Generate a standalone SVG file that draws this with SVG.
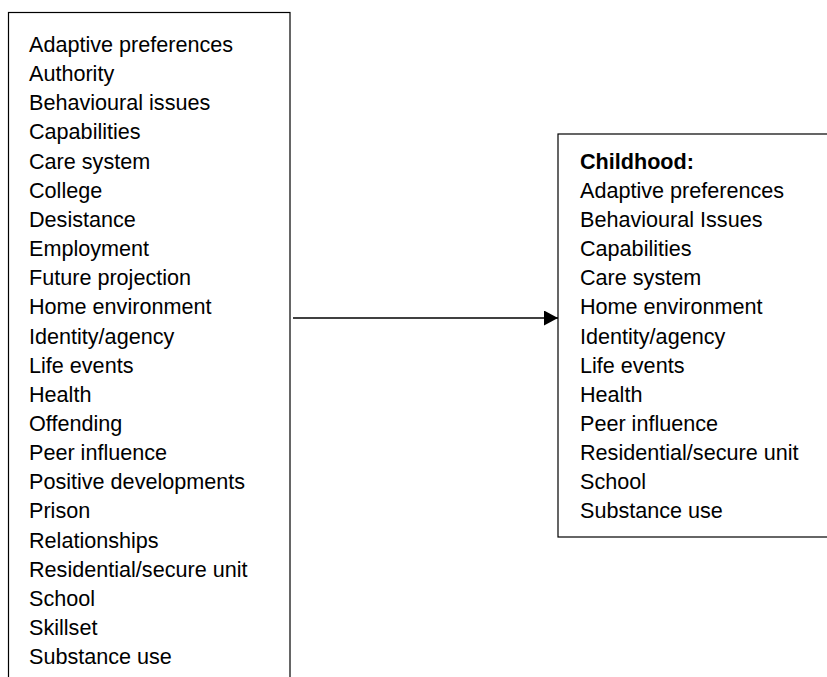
<svg xmlns="http://www.w3.org/2000/svg" width="827" height="677" viewBox="0 0 827 677">
<defs>
<style>
.box{fill:#fff;stroke:#000;stroke-width:1.2}
.t{font-family:"Liberation Sans",Arial,sans-serif;font-size:21.6px;fill:#000}
.b{font-weight:bold}
.conn{stroke:#000;stroke-width:1.3;fill:none}
</style>
<marker id="arr" viewBox="0 0 14 15" refX="14" refY="7.5" markerWidth="14" markerHeight="15" markerUnits="userSpaceOnUse" orient="auto">
<path d="M0,0 L14,7.5 L0,15 Z" fill="#000"/>
</marker>
</defs>
<rect width="827" height="677" fill="#fff"/>
<g id="node-left">
<rect class="box" x="8.5" y="12.5" width="281.5" height="700"/>
<text class="t" x="29">
<tspan x="29" y="52">Adaptive preferences</tspan>
<tspan x="29" y="81.15">Authority</tspan>
<tspan x="29" y="110.3">Behavioural issues</tspan>
<tspan x="29" y="139.45">Capabilities</tspan>
<tspan x="29" y="168.6">Care system</tspan>
<tspan x="29" y="197.75">College</tspan>
<tspan x="29" y="226.9">Desistance</tspan>
<tspan x="29" y="256.05">Employment</tspan>
<tspan x="29" y="285.2">Future projection</tspan>
<tspan x="29" y="314.35">Home environment</tspan>
<tspan x="29" y="343.5">Identity/agency</tspan>
<tspan x="29" y="372.65">Life events</tspan>
<tspan x="29" y="401.8">Health</tspan>
<tspan x="29" y="430.95">Offending</tspan>
<tspan x="29" y="460.1">Peer influence</tspan>
<tspan x="29" y="489.25">Positive developments</tspan>
<tspan x="29" y="518.4">Prison</tspan>
<tspan x="29" y="547.55">Relationships</tspan>
<tspan x="29" y="576.7">Residential/secure unit</tspan>
<tspan x="29" y="605.85">School</tspan>
<tspan x="29" y="635">Skillset</tspan>
<tspan x="29" y="664.15">Substance use</tspan>
</text>
</g>
<g id="node-right">
<rect class="box" x="558" y="134" width="300" height="403"/>
<text class="t b" x="580" y="169">Childhood:</text>
<text class="t" x="580">
<tspan x="580" y="198">Adaptive preferences</tspan>
<tspan x="580" y="227.1">Behavioural Issues</tspan>
<tspan x="580" y="256.2">Capabilities</tspan>
<tspan x="580" y="285.3">Care system</tspan>
<tspan x="580" y="314.4">Home environment</tspan>
<tspan x="580" y="343.5">Identity/agency</tspan>
<tspan x="580" y="372.6">Life events</tspan>
<tspan x="580" y="401.7">Health</tspan>
<tspan x="580" y="430.8">Peer influence</tspan>
<tspan x="580" y="459.9">Residential/secure unit</tspan>
<tspan x="580" y="489">School</tspan>
<tspan x="580" y="518.1">Substance use</tspan>
</text>
</g>
<g id="connectors">
<line class="conn" x1="293" y1="318" x2="558" y2="318" marker-end="url(#arr)"/>
</g>
</svg>
